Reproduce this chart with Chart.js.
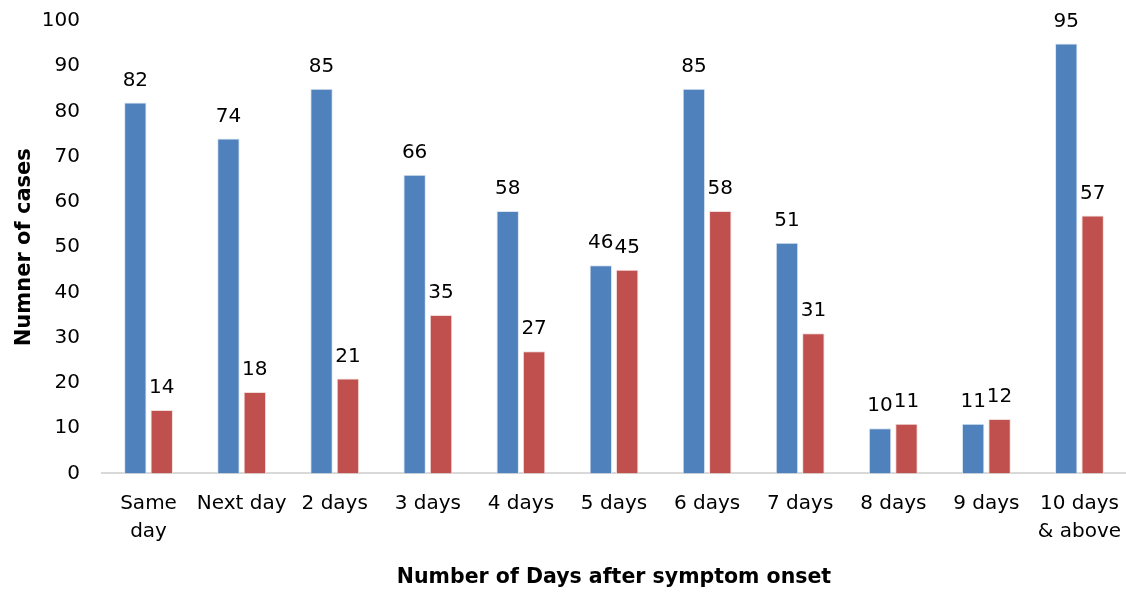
<!DOCTYPE html>
<html>
<head>
<meta charset="utf-8">
<script src="https://cdn.jsdelivr.net/npm/chart.js"></script>
<style>
  html, body { margin: 0; padding: 0; background: #fff; }
  #wrap { width: 1126px; height: 592px; }
</style>
</head>
<body>
<div id="wrap"><canvas id="daysChart" width="1126" height="592"></canvas></div>
<script>
const categories = [["Same", "day"], "Next day", "2 days", "3 days", "4 days", "5 days",
  "6 days", "7 days", "8 days", "9 days", ["10 days", "& above"]];
const seriesA = [82, 74, 85, 66, 58, 46, 85, 51, 10, 11, 95];
const seriesB = [14, 18, 21, 35, 27, 45, 58, 31, 11, 12, 57];
const yTicks = [0, 10, 20, 30, 40, 50, 60, 70, 80, 90, 100];

const FONT = "'DejaVu Sans', sans-serif";

// writes the value above each bar
const barValues = {
  id: "barValues",
  afterDatasetsDraw(chart) {
    const ctx = chart.ctx;
    ctx.save();
    ctx.font = "20px " + FONT;
    ctx.fillStyle = "#000";
    ctx.textAlign = "center";
    ctx.textBaseline = "bottom";
    chart.data.datasets.forEach((ds, i) => {
      chart.getDatasetMeta(i).data.forEach((bar, j) => {
        ctx.fillText(ds.data[j], bar.x, bar.y - 12);
      });
    });
    ctx.restore();
  }
};

new Chart(document.getElementById("daysChart").getContext("2d"), {
  type: "bar",
  data: {
    labels: categories,
    datasets: [
      {
        label: "A",
        data: seriesA,
        backgroundColor: "#4F81BD",
        borderColor: "#dbe5f1",
        borderWidth: 1,
        categoryPercentage: 0.567,
        barPercentage: 0.85
      },
      {
        label: "B",
        data: seriesB,
        backgroundColor: "#C0504D",
        borderColor: "#f2dcdb",
        borderWidth: 1,
        categoryPercentage: 0.567,
        barPercentage: 0.85
      }
    ]
  },
  options: {
    responsive: false,
    animation: false,
    layout: { padding: { top: 21, right: -9, left: 12, bottom: 0 } },
    plugins: {
      legend: { display: false },
      tooltip: { enabled: false }
    },
    scales: {
      x: {
        afterFit(axis) { axis.paddingLeft = 0; axis.paddingRight = 0; },
        grid: { display: false, drawTicks: false },
        border: { color: "#d9d9d9", width: 2 },
        ticks: {
          color: "#000",
          font: { family: FONT, size: 20, lineHeight: 1.4 },
          padding: 16,
          maxRotation: 0,
          autoSkip: false
        },
        title: {
          display: true,
          text: "Number of Days after symptom onset",
          color: "#000",
          font: { family: FONT, size: 20.5, weight: "bold" },
          padding: { top: 4, bottom: 2 }
        }
      },
      y: {
        min: 0,
        max: 100,
        afterBuildTicks(axis) { axis.ticks = yTicks.map(v => ({ value: v })); },
        afterFit(axis) { axis.width = 90; axis.paddingTop = 0; axis.paddingBottom = 0; },
        grid: { display: false, drawTicks: false },
        border: { display: false },
        ticks: {
          color: "#000",
          font: { family: FONT, size: 20 },
          padding: 22
        },
        title: {
          display: true,
          text: "Numner of cases",
          color: "#000",
          font: { family: FONT, size: 21, weight: "bold" },
          padding: { top: 0, bottom: 10 }
        }
      }
    }
  },
  plugins: [barValues]
});
</script>
</body>
</html>
